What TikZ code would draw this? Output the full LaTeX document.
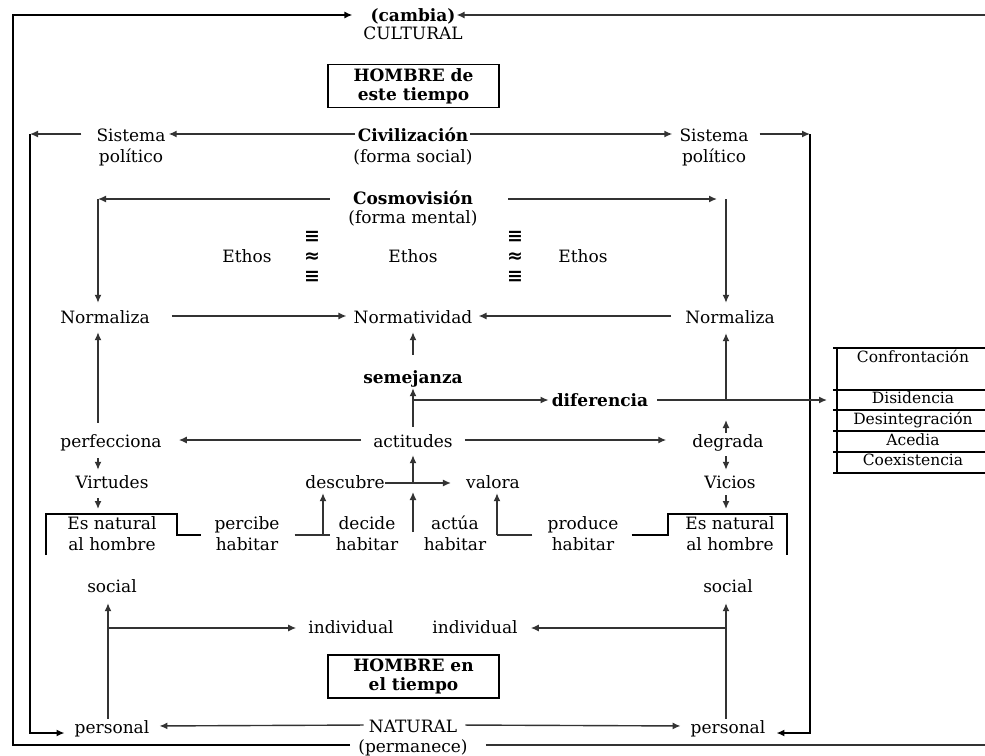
\documentclass[tikz,border=0pt]{standalone}
\usepackage{fontspec}
\setmainfont{DejaVu Serif}
\newfontfamily\symf{DejaVu Sans}
\usetikzlibrary{arrows.meta}
\begin{document}
\begin{tikzpicture}[x=1pt,y=-1pt,
  txt/.style={inner xsep=0pt, inner ysep=0pt, text height=14pt, text depth=0pt, font=\fontsize{17}{20}\selectfont},
  bld/.style={txt, font=\fontsize{17}{20}\selectfont\bfseries},
  sym/.style={txt, font=\fontsize{19}{20}\selectfont\symf\bfseries},
  tab/.style={txt, text height=12pt, font=\fontsize{15.5}{18}\selectfont},
  ln/.style={draw=black!80, line width=1.4pt},
  arr/.style={ln, -{Latex[length=8pt,width=7pt]}},
  bx/.style={draw=black, line width=1.4pt, inner sep=0pt, align=center, font=\fontsize{17}{19}\selectfont\bfseries, minimum width=171pt, minimum height=43pt}
]
\useasboundingbox (0,0) rectangle (985,755);
\fill[white] (0,0) rectangle (985,755);

% ---------- texts ----------
\node[bld] (cambia) at (413,14) {(cambia)};
\node[txt] (cultural) at (413,32) {CULTURAL};
\node[bx] (box1) at (413.5,86) {HOMBRE de\\este tiempo};

\node[txt] (sisL) at (131,134) {Sistema};
\node[txt] (sisL2) at (131,155) {político};
\node[bld] (civ) at (413,134) {Civilización};
\node[txt] (civ2) at (413,155) {(forma social)};
\node[txt] (sisR) at (714,134) {Sistema};
\node[txt] (sisR2) at (714,155) {político};

\node[bld] (cosmo) at (413,197) {Cosmovisión};
\node[txt] (cosmo2) at (413,216) {(forma mental)};

\node[txt] (eth1) at (247,255) {Ethos};
\node[txt] (eth2) at (413,255) {Ethos};
\node[txt] (eth3) at (583,255) {Ethos};
\node[sym] (s1a) at (312,235) {≡};
\node[sym] (s1b) at (312,255) {≈};
\node[sym] (s1c) at (312,275) {≡};
\node[sym] (s2a) at (515,235) {≡};
\node[sym] (s2b) at (515,255) {≈};
\node[sym] (s2c) at (515,275) {≡};

\node[txt] (normL) at (105,316) {Normaliza};
\node[txt] (normat) at (413,316) {Normatividad};
\node[txt] (normR) at (730,316) {Normaliza};

\node[bld] (sem) at (413,376) {semejanza};
\node[bld] (dif) at (600,399) {diferencia};

\node[txt] (perf) at (111,440) {perfecciona};
\node[txt] (act) at (413,440) {actitudes};
\node[txt] (degr) at (728,440) {degrada};

\node[txt] (virt) at (112,481) {Virtudes};
\node[txt] (desc) at (345,481) {descubre};
\node[txt] (val) at (493,481) {valora};
\node[txt] (vic) at (730,481) {Vicios};

\node[txt] (esL) at (112,522) {Es natural};
\node[txt] (esL2) at (112,543) {al hombre};
\node[txt] (perc) at (247,522) {percibe};
\node[txt] (perc2) at (247,543) {habitar};
\node[txt] (dec) at (367,522) {decide};
\node[txt] (dec2) at (367,543) {habitar};
\node[txt] (actu) at (455,522) {actúa};
\node[txt] (actu2) at (455,543) {habitar};
\node[txt] (prod) at (583,522) {produce};
\node[txt] (prod2) at (583,543) {habitar};
\node[txt] (esR) at (730,522) {Es natural};
\node[txt] (esR2) at (730,543) {al hombre};

\node[txt] (socL) at (112,585) {social};
\node[txt] (socR) at (728,585) {social};
\node[txt] (indL) at (351,626) {individual};
\node[txt] (indR) at (475,626) {individual};

\node[bx] (box2) at (413.5,676.5) {HOMBRE en\\el tiempo};

\node[txt] (persL) at (112,726) {personal};
\node[txt] (nat) at (413,725) {NATURAL};
\node[txt] (perm) at (413,745) {(permanece)};
\node[txt] (persR) at (728,726) {personal};

% table
\node[tab] (t1) at (913,356) {Confrontación};
\node[tab] (t2) at (913,397) {Disidencia};
\node[tab] (t3) at (913,418) {Desintegración};
\node[tab] (t4) at (913,439) {Acedia};
\node[tab] (t5) at (913,459) {Coexistencia};
\draw[ln, draw=black] (837,348) -- (837,473);
\foreach \yy in {348,390,410,431,452,473} \draw[ln, draw=black] (833,\yy) -- (985,\yy);
\coordinate (tL) at (837,400);

% ---------- coordinates ----------
\coordinate (oBL) at (13,745);
\coordinate (oTL) at (13,15);
\coordinate (oTR) at (985,15);
\coordinate (oBR) at (985,745);
\coordinate (iTL) at (30,134);
\coordinate (iBL) at (30,733);
\coordinate (iTR) at (810,134);
\coordinate (iBR) at (810,733);
\coordinate (cL) at (98,199);
\coordinate (cR) at (726,199);
\coordinate (bD) at (413,400);
\coordinate (dR) at (726,400);
\coordinate (cD) at (413,483);
\coordinate (cU) at (413,532);
\coordinate (pE) at (323,535);
\coordinate (vE) at (497,535);
\coordinate (eL) at (98,514);
\coordinate (eR) at (726,514);
\coordinate (bL1) at (46,555);
\coordinate (bL2) at (46,514);
\coordinate (bL3) at (177,514);
\coordinate (bL4) at (177,535);
\coordinate (bR1) at (668,535);
\coordinate (bR2) at (668,514);
\coordinate (bR3) at (787,514);
\coordinate (bR4) at (787,555);
\coordinate (sL) at (108,628);
\coordinate (sR) at (726,628);

% ---------- outer frame ----------
\draw[arr, draw=black, shorten <=8pt, shorten >=18pt] (perm.west) -- (oBL) -- (oTL) -- (cambia.west |- oTL);
\draw[arr, shorten >=1pt] (oTR) -- (cambia.east |- oTR);
\draw[ln, shorten <=18pt] (perm.east) -- (oBR);

% ---------- inner frame ----------
\draw[arr, shorten <=3pt, shorten >=3pt] (civ.west) -- (sisL.east);
\draw[arr, shorten <=2pt, shorten >=7pt] (civ.east) -- (sisR.west);
\draw[arr, shorten <=15pt] (sisL.west) -- (iTL);
\draw[arr, draw=black, shorten >=10pt] (iTL) -- (iBL) -- (persL.west |- iBL);
\draw[arr, shorten <=11pt] (sisR.east) -- (iTR);
\draw[arr, draw=black, shorten >=11pt] (iTR) -- (iBR) -- (persR.east |- iBR);

% ---------- cosmovision ----------
\draw[arr, shorten <=23pt] (cosmo.west |- cL) -- (cL);
\draw[arr, shorten >=6pt] (cL) -- (cL |- normL.north);
\draw[arr, shorten <=35pt, shorten >=9pt] (cosmo.east |- cR) -- (cR);
\draw[arr, shorten >=6pt] (cR) -- (cR |- normR.north);

% ---------- normatividad ----------
\draw[arr, shorten <=22pt, shorten >=7pt] (normL.east) -- (normat.west);
\draw[arr, shorten <=14pt, shorten >=6pt] (normR.west) -- (normat.east);
\draw[arr, shorten <=14pt, shorten >=9pt] (sem.north) -- (normat.south);
\draw[arr, shorten <=6pt, shorten >=5pt] (act.north) -- (sem.south);
\draw[arr, shorten >=3pt] (bD) -- (dif.west |- bD);
\draw[arr, shorten <=9pt, shorten >=10pt] (dif.east |- bD) -- (tL);
\draw[arr, shorten >=10pt] (dR) -- (dR |- normR.south);

% ---------- actitudes row ----------
\draw[arr, shorten <=12pt, shorten >=17pt] (act.west) -- (perf.east);
\draw[arr, shorten <=12pt, shorten >=26pt] (act.east) -- (degr.west);
\draw[arr, shorten <=10pt, shorten >=9pt] (cL |- perf.north) -- (cL |- normL.south);
\draw[arr, shorten <=11pt, shorten >=4pt] (cL |- perf.south) -- (cL |- virt.north);
\draw[arr, shorten <=10pt, shorten >=5pt] (cL |- virt.south) -- (eL);
\draw[arr, shorten >=20pt] (dR |- degr.north) -- (dR);
\draw[arr, shorten <=9pt, shorten >=4pt] (dR |- degr.south) -- (dR |- vic.north);
\draw[arr, shorten <=7pt, shorten >=5pt] (dR |- vic.south) -- (eR);

% ---------- habitar row ----------
\draw[arr, shorten >=15pt] (desc.east |- cD) -- (val.west |- cD);
\draw[arr, shorten >=8pt] (cD) -- (act.south);
\draw[arr, shorten >=9pt] (cU) -- (cD);
\draw[ln, shorten <=15pt] (perc.east |- pE) -- ([xshift=7pt]pE);
\draw[arr, shorten >=5pt] (pE) -- (pE |- desc.south);
\draw[ln, draw=black, shorten >=13pt] (bL1) -- (bL2) -- (bL3) -- (bL4) -- (perc.west |- bL4);
\draw[ln, shorten <=15pt] (prod.west |- vE) -- (vE);
\draw[arr, shorten >=5pt] (vE) -- (vE |- val.south);
\draw[ln, draw=black, shorten <=13pt] (prod.east |- bR1) -- (bR1) -- (bR2) -- (bR3) -- (bR4);

% ---------- social / personal ----------
\draw[arr, shorten >=11pt] (sL |- persL.north) -- (sL |- socL.south);
\draw[arr, shorten >=12pt] (sL) -- (indL.west |- sL);
\draw[arr, shorten >=11pt] (sR |- persR.north) -- (sR |- socR.south);
\draw[arr, shorten >=13pt] (sR) -- (indR.east |- sR);
\draw[arr, shorten <=5pt, shorten >=10pt] (nat.west) -- (persL.east);
\draw[arr, shorten <=8pt, shorten >=10pt] (nat.east) -- (persR.west);
\end{tikzpicture}
\end{document}
